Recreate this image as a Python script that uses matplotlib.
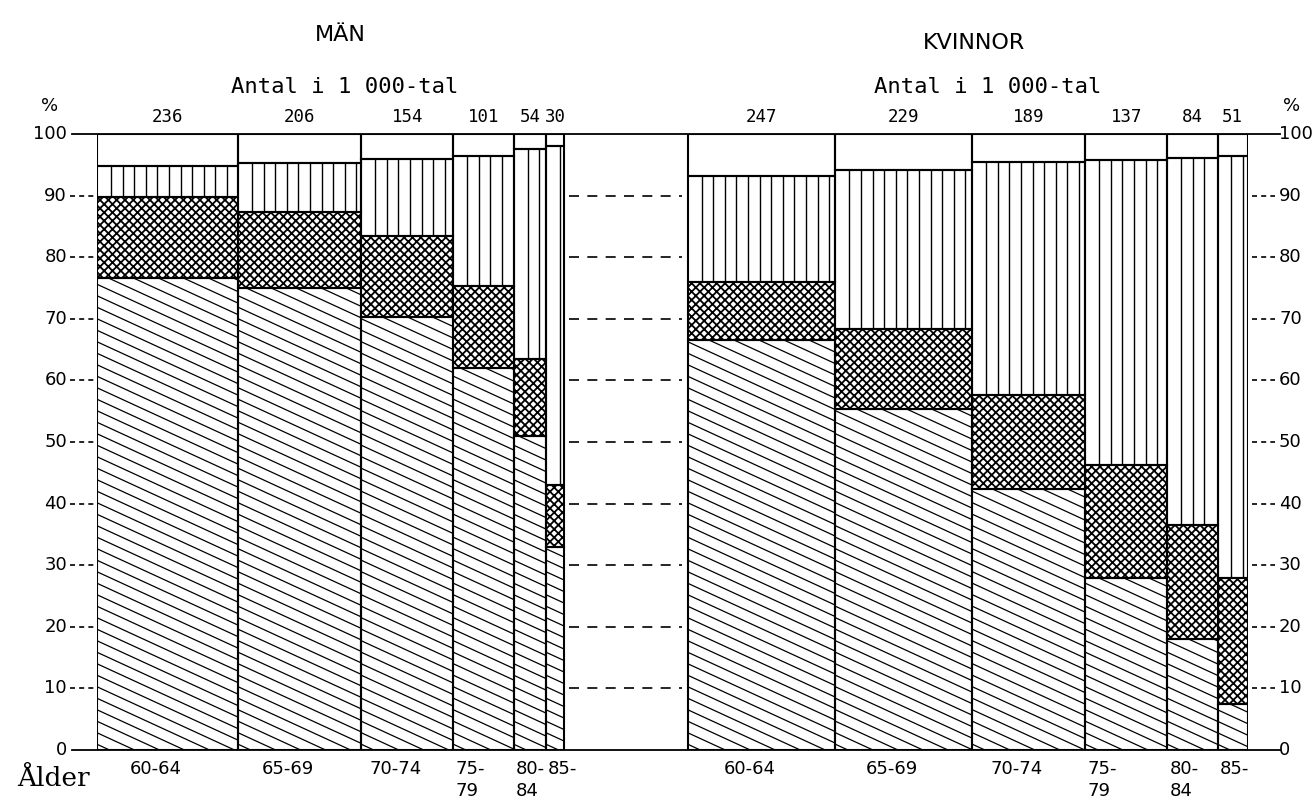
import matplotlib
matplotlib.use("Agg")
import matplotlib.pyplot as plt
import numpy as np
from matplotlib.collections import LineCollection

# values
age_groups = ["60-64", "65-69", "70-74", "75-\n79", "80-\n84", "85-"]
men_counts = [236, 206, 154, 101, 54, 30]        # Antal i 1 000-tal
women_counts = [247, 229, 189, 137, 84, 51]

# upper edge (%) of each stacked segment, bottom to top
men_diag = [76.7, 75.0, 70.3, 62.0, 51.0, 33.0]
men_cross = [89.7, 87.3, 83.4, 75.3, 63.5, 43.0]
men_vert = [94.8, 95.3, 96.0, 96.5, 97.5, 98.0]
women_diag = [66.6, 55.4, 42.4, 28.0, 18.0, 7.5]
women_cross = [76.0, 68.4, 57.6, 46.3, 36.5, 28.0]
women_vert = [93.2, 94.2, 95.5, 95.8, 96.1, 96.5]

gap = 207  # space between the two groups, same units as the counts

plt.rcParams['hatch.linewidth'] = 1.3
plt.rcParams['font.family'] = 'DejaVu Sans'

W, H = 1316, 802
fig = plt.figure(figsize=(W / 100, H / 100), dpi=100)
ax = fig.add_axes([97 / W, 52 / H, 1151 / W, 616 / H])
total = sum(men_counts) + gap + sum(women_counts)
ax.set_xlim(0, total)
ax.set_ylim(0, 100)
ax.axis('off')

ppx = 1151 / total   # pixels per x unit
ppy = 616 / 100      # pixels per percent


def vert_hatch(rect):
    x0, y0, w, h = rect.get_x(), rect.get_y(), rect.get_width(), rect.get_height()
    step = 11.6 / ppx
    xs = np.arange(x0 + step * 1.2, x0 + w - step * 0.3, step)
    ax.vlines(xs, y0, y0 + h, color='black', lw=1.0, zorder=2)


def diag_hatch(rect):
    x0, y0, w, h = rect.get_x(), rect.get_y(), rect.get_width(), rect.get_height()
    k = 0.46 * ppx / ppy
    step = 11.5 / ppy
    segs = []
    for c in np.arange(y0 + step * 0.5, y0 + h + k * w + step, step):
        segs.append([(x0, c), (x0 + w, c - k * w)])
    lc = LineCollection(segs, colors='black', linewidths=0.9, zorder=2)
    ax.add_collection(lc)
    lc.set_clip_path(rect)


def draw_group(start, counts, diag, cross, vert):
    lefts = start + np.concatenate([[0], np.cumsum(counts)[:-1]])
    widths = np.array(counts)
    d = np.array(diag)
    c = np.array(cross)
    v = np.array(vert)
    # diagonal segment
    bars = ax.bar(lefts, d, widths, align='edge', facecolor='white', lw=0, zorder=1)
    for r in bars:
        diag_hatch(r)
    # cross hatched segment
    ax.bar(lefts, c - d, widths, bottom=d, align='edge', facecolor='white',
           edgecolor='black', hatch='xxxx', lw=0, zorder=1)
    # vertical lines segment
    bars = ax.bar(lefts, v - c, widths, bottom=c, align='edge', facecolor='white', lw=0, zorder=1)
    for r in bars:
        vert_hatch(r)
    # outlines
    for bottom, top in [(0, d), (d, c), (c, v), (v, 100)]:
        ax.bar(lefts, top - bottom, widths, bottom=bottom, align='edge', fill=False,
               edgecolor='black', lw=1.5, zorder=3)
    for left, w, n, lab in zip(lefts, widths, counts, age_groups):
        ax.text(left + w / 2, 101.3, str(n), ha='center', va='bottom',
                fontsize=12.5, family='DejaVu Sans Mono')
        if w >= 150:
            ax.text(left + w / 2 - 12 / ppx, -1.6, lab, ha='center', va='top',
                    fontsize=13, linespacing=1.3)
        else:
            ax.text(left + 2 / ppx, -1.6, lab, ha='left', va='top',
                    fontsize=13, linespacing=1.3)


draw_group(0, men_counts, men_diag, men_cross, men_vert)
draw_group(sum(men_counts) + gap, women_counts, women_diag, women_cross, women_vert)

# dashed lines in the gap
men_end = sum(men_counts)
women_start = men_end + gap
for yv in range(10, 100, 10):
    ax.plot([men_end + 5 / ppx, women_start - 6 / ppx], [yv, yv], color='black',
            lw=1.2, dashes=(6, 5), zorder=1)

# axis lines, ticks and labels on both sides
yt = ax.get_yaxis_transform()
for yv in [0, 100]:
    ax.plot([-25 / 1151, 1 + 32 / 1151], [yv, yv], color='black', lw=1.3,
            transform=yt, clip_on=False)
for yv in range(10, 100, 10):
    ax.plot([-27 / 1151, -2 / 1151], [yv, yv], color='black', lw=1.2, dashes=(3, 2.5),
            transform=yt, clip_on=False)
    ax.plot([1 + 4 / 1151, 1 + 27 / 1151], [yv, yv], color='black', lw=1.2,
            dashes=(3, 2.5), transform=yt, clip_on=False)
for yv in range(0, 101, 10):
    ax.text(-30 / 1151, yv, str(yv), transform=yt, ha='right', va='center', fontsize=13)
    ax.text(1 + 31 / 1151, yv, str(yv), transform=yt, ha='left', va='center', fontsize=13)

# headings
fig.text(340 / W, 1 - 35 / H, "MÄN", ha='center', va='center', fontsize=16)
fig.text(974 / W, 1 - 43 / H, "KVINNOR", ha='center', va='center', fontsize=16)
fig.text(345 / W, 1 - 87 / H, "Antal i 1 000-tal", ha='center', va='center',
         fontsize=16, family='DejaVu Sans Mono')
fig.text(988 / W, 1 - 87 / H, "Antal i 1 000-tal", ha='center', va='center',
         fontsize=16, family='DejaVu Sans Mono')
fig.text(50 / W, 1 - 106 / H, "%", ha='center', va='center', fontsize=13)
fig.text(1292 / W, 1 - 106 / H, "%", ha='center', va='center', fontsize=13)
fig.text(17 / W, 1 - 778 / H, "Ålder", ha='left', va='center', fontsize=19,
         family='DejaVu Serif')

fig.savefig("out.png", dpi=100)
